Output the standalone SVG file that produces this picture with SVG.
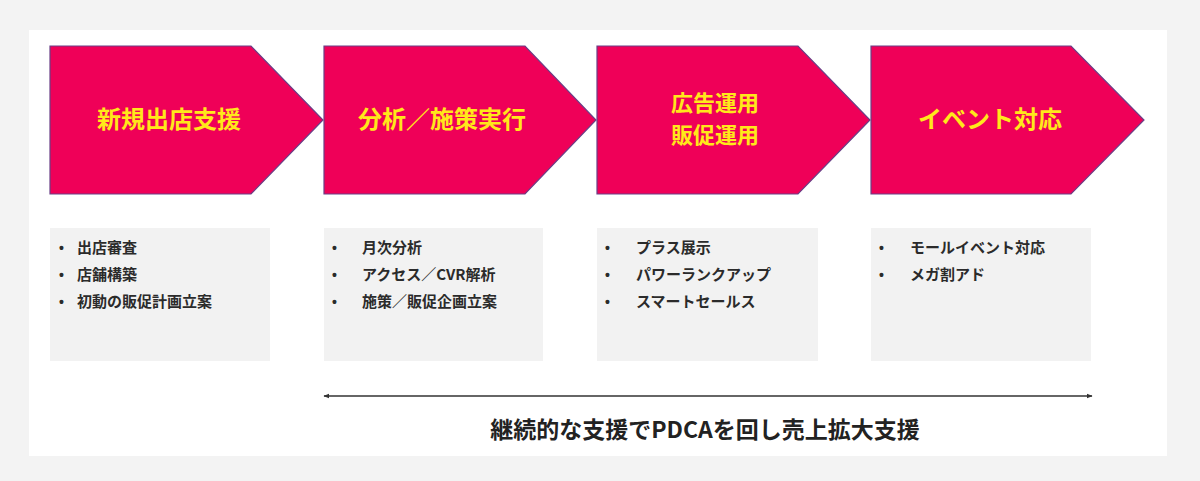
<svg xmlns="http://www.w3.org/2000/svg" width="1200" height="481" viewBox="0 0 1200 481">
<defs>
<style>
.step{fill:#ef0058;stroke:#6a3f86;stroke-width:1.2}
.title{font-family:"Noto Sans CJK JP","Liberation Sans",sans-serif;font-weight:bold;font-size:24px;fill:#ffe81a;text-anchor:middle}
.title2{font-size:22px}
.box{fill:#f2f2f2}
.item{font-family:"Noto Sans CJK JP","Liberation Sans",sans-serif;font-weight:bold;font-size:15px;fill:#2b2b2b}
.bul{font-family:"Liberation Sans",sans-serif;font-weight:bold;font-size:14px;fill:#2b2b2b}
.conn{stroke:#333;stroke-width:1.5;fill:none}
.foot{font-family:"Noto Sans CJK JP","Liberation Sans",sans-serif;font-weight:bold;font-size:23px;fill:#222;text-anchor:middle}
</style>
<marker id="ah" viewBox="0 0 10 10" refX="9" refY="5" markerWidth="6" markerHeight="6" orient="auto-start-reverse" markerUnits="userSpaceOnUse">
<path d="M0,1 L10,5 L0,9 z" fill="#333"/>
</marker>
</defs>
<rect x="0" y="0" width="1200" height="481" fill="#f3f3f3"/>
<rect x="29" y="30" width="1138" height="426" fill="#ffffff"/>

<g id="step1">
<polygon class="step" points="50,46 251,46 323,120 251,194 50,194"/>
<text class="title" x="169" y="128">新規出店支援</text>
</g>
<g id="step2">
<polygon class="step" points="324,46 525,46 596,120 525,194 324,194"/>
<text class="title" x="442" y="128">分析／施策実行</text>
</g>
<g id="step3">
<polygon class="step" points="597,46 798,46 870,120 798,194 597,194"/>
<text class="title title2" x="715" y="111">広告運用</text>
<text class="title title2" x="715" y="143">販促運用</text>
</g>
<g id="step4">
<polygon class="step" points="871,46 1071,46 1144,120 1071,194 871,194"/>
<text class="title" x="990" y="128">イベント対応</text>
</g>

<g id="box1">
<rect class="box" x="50" y="228" width="220" height="133"/>
<text class="bul" x="59" y="253">•</text><text class="item" x="77" y="253">出店審査</text>
<text class="bul" x="59" y="280">•</text><text class="item" x="77" y="280">店舗構築</text>
<text class="bul" x="59" y="307">•</text><text class="item" x="77" y="307">初動の販促計画立案</text>
</g>
<g id="box2">
<rect class="box" x="324" y="228" width="219" height="133"/>
<text class="bul" x="332" y="253">•</text><text class="item" x="362" y="253">月次分析</text>
<text class="bul" x="332" y="280">•</text><text class="item" x="362" y="280">アクセス／CVR解析</text>
<text class="bul" x="332" y="307">•</text><text class="item" x="362" y="307">施策／販促企画立案</text>
</g>
<g id="box3">
<rect class="box" x="597" y="228" width="221" height="133"/>
<text class="bul" x="605" y="253">•</text><text class="item" x="636" y="253">プラス展示</text>
<text class="bul" x="605" y="280">•</text><text class="item" x="636" y="280">パワーランクアップ</text>
<text class="bul" x="605" y="307">•</text><text class="item" x="636" y="307">スマートセールス</text>
</g>
<g id="box4">
<rect class="box" x="871" y="228" width="220" height="133"/>
<text class="bul" x="879" y="253">•</text><text class="item" x="910" y="253">モールイベント対応</text>
<text class="bul" x="879" y="280">•</text><text class="item" x="910" y="280">メガ割アド</text>
</g>

<g id="connectors">
<line class="conn" x1="324" y1="396" x2="1092" y2="396" marker-start="url(#ah)" marker-end="url(#ah)"/>
</g>
<text class="foot" x="705" y="438">継続的な支援でPDCAを回し売上拡大支援</text>
</svg>
